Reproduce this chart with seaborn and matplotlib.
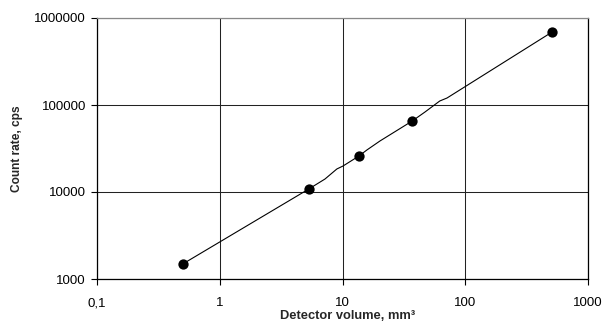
import matplotlib
matplotlib.use("Agg")
import matplotlib.pyplot as plt
import seaborn as sns
import pandas as pd

# Measured points (markers)
point_volume = [0.5, 5.3, 13.6, 37, 510]
point_rate = [1490, 10800, 25900, 65500, 690000]

# Curve (line without markers)
curve_volume = [0.5, 5.3, 7.2, 9.0, 10.1, 13.6, 15.8, 20.2, 37, 47, 62, 71, 510]
curve_rate = [1490, 10800, 14100, 18400, 19900, 25900, 30400, 38600, 65500, 83100, 111200, 120300, 690000]

x_ticks = [0.1, 1, 10, 100, 1000]
x_tick_labels = ["0,1", "1", "10", "100", "1000"]
y_ticks = [1000, 10000, 100000, 1000000]
y_tick_labels = ["1000", "10000", "100000", "1000000"]

sns.set_style("white")
plt.rcParams["font.family"] = ["Liberation Sans", "DejaVu Sans"]

fig = plt.figure(figsize=(6.05, 3.23), dpi=100)
ax = fig.add_axes([97 / 605, 1 - 279 / 323, (588 - 97) / 605, (279 - 18) / 323])

curve_df = pd.DataFrame({"volume": curve_volume, "rate": curve_rate})
points_df = pd.DataFrame({"volume": point_volume, "rate": point_rate})

sns.lineplot(data=curve_df, x="volume", y="rate", ax=ax, color="black",
             linewidth=0.8, sort=False, estimator=None, zorder=3)
sns.scatterplot(data=points_df, x="volume", y="rate", ax=ax, color="black",
                s=55, edgecolor="black", linewidth=0, zorder=4)

ax.set_xscale("log")
ax.set_yscale("log")
ax.set_xlim(0.1, 1000)
ax.set_ylim(1000, 1000000)

ax.xaxis.set_major_locator(matplotlib.ticker.FixedLocator(x_ticks))
ax.yaxis.set_major_locator(matplotlib.ticker.FixedLocator(y_ticks))
ax.xaxis.set_minor_locator(matplotlib.ticker.NullLocator())
ax.yaxis.set_minor_locator(matplotlib.ticker.NullLocator())
ax.set_xticklabels(x_tick_labels)
ax.set_yticklabels(y_tick_labels)

ax.grid(True, which="major", color="#222222", linewidth=0.75)
ax.set_axisbelow(True)
for side in ["left", "bottom", "right", "top"]:
    ax.spines[side].set_visible(True)
    ax.spines[side].set_color("black")
    ax.spines[side].set_linewidth(0.9)
ax.spines["top"].set_color("#888888")

ax.tick_params(axis="both", which="major", direction="out", length=4, width=0.8,
               color="black", labelsize=9.5, labelcolor="black")
ax.tick_params(axis="x", pad=9, bottom=True)
ax.tick_params(axis="y", pad=4, left=True)

ax.set_xlabel("Detector volume, mm³", fontsize=9.3, fontweight="bold")
ax.xaxis.set_label_coords(0.51, -0.12)
ax.set_ylabel("Count rate, cps", fontsize=8.6, fontweight="bold", labelpad=8)

fig.savefig("out.png", dpi=100, facecolor="white")
